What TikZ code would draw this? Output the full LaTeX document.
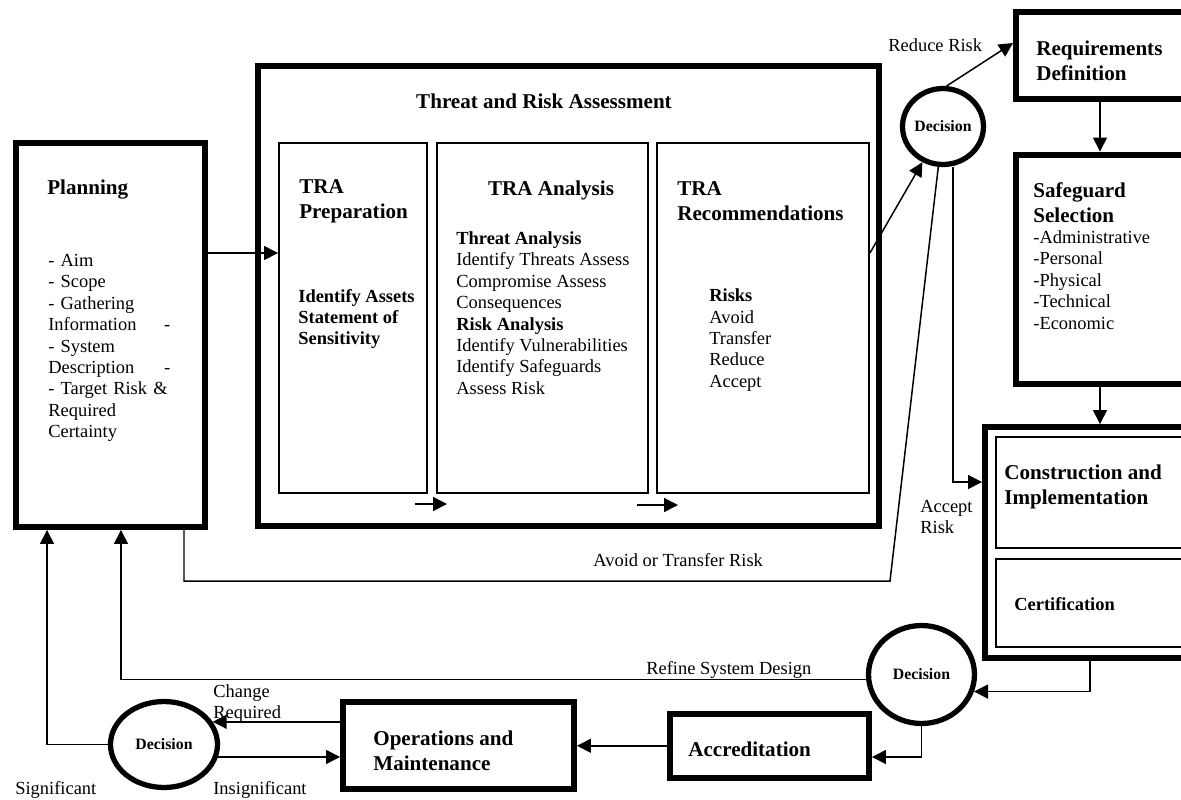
\documentclass[tikz,border=0pt]{standalone}
\usepackage{fontspec}
\setmainfont{Liberation Serif}
\usepackage{tikz}
\usetikzlibrary{positioning}
\usetikzlibrary{arrows.meta}
\usetikzlibrary{shapes.geometric}

\begin{document}
\begin{tikzpicture}[x=0.02cm, y=-0.02cm,
   bigbox/.style={draw, line width=3.4pt, inner sep=0pt},
   smallbox/.style={draw, line width=1.1pt, inner sep=0pt},
   decision/.style={ellipse, draw, line width=3pt, inner sep=0pt, font=\fontsize{9}{10}\selectfont\bfseries},
   txt/.style={anchor=west, inner sep=0pt, align=left, font=\fontsize{10.5}{12.2}\selectfont},
   boldtxt/.style={txt, font=\fontsize{10.5}{12.2}\selectfont\bfseries},
   head/.style={anchor=west, inner sep=0pt, align=left, font=\fontsize{12}{14.2}\selectfont\bfseries},
   link/.style={line width=0.85pt},
   arr/.style={link, -{Triangle[length=0.28cm, width=0.28cm]}}]
\useasboundingbox (0,0) rectangle (1181,799);

% boxes
\node[bigbox, minimum width=3.79cm, minimum height=7.68cm] (plan) at (110.75,335) {};
\node[bigbox, minimum width=12.43cm, minimum height=9.2cm] (tra) at (568.25,296) {};
\node[smallbox, minimum width=2.96cm, minimum height=7cm] (prep) at (353,318) {};
\node[smallbox, minimum width=4.22cm, minimum height=7cm] (anal) at (542.5,318) {};
\node[smallbox, minimum width=4.24cm, minimum height=7cm] (rec) at (763,318) {};
\node[bigbox, minimum width=3.68cm, minimum height=1.74cm] (req) at (1108,55.5) {};
\node[bigbox, minimum width=3.68cm, minimum height=4.59cm] (safe) at (1108,269.25) {};
\node[bigbox, minimum width=4.3cm, minimum height=4.62cm] (cons) at (1092.5,542.5) {};
\node[smallbox, minimum width=3.98cm, minimum height=2.22cm] (impl) at (1095.5,492.5) {};
\node[smallbox, minimum width=3.98cm, minimum height=1.76cm] (cert) at (1095.5,603) {};
\node[bigbox, minimum width=4.62cm, minimum height=1.74cm] (ops) at (458.5,745.5) {};
\node[bigbox, minimum width=3.98cm, minimum height=1.29cm] (accr) at (769.5,745.75) {};

\node[decision, minimum width=1.62cm, minimum height=1.52cm] (dec1) at (943,126.5) {Decision};
\node[decision, minimum width=2.12cm, minimum height=1.96cm] (dec2) at (921.5,674.5) {Decision};
\node[decision, minimum width=2.14cm, minimum height=1.72cm] (dec3) at (164,744.5) {Decision};

% texts
\node[head] (plantitle) at (47,190) {Planning};
\node[txt, text width=2.44cm] (planlist) at (48,348) {- Aim\\- Scope\\- Gathering\\Information\hfill-\\- System\\Description\hfill-\\- Target Risk \&\\Required\\Certainty};
\node[head, anchor=center] (tratitle) at (544,101) {Threat and Risk Assessment};
\node[head] (preptitle) at (299,201) {TRA\\Preparation};
\node[boldtxt] (prepbody) at (298,319) {Identify Assets\\Statement of\\Sensitivity};
\node[head, anchor=center] (analtitle) at (551,190) {TRA Analysis};
\node[txt] (analbody) at (456,313) {\textbf{Threat Analysis}\\Identify Threats Assess\\Compromise Assess\\Consequences\\\textbf{Risk Analysis}\\Identify Vulnerabilities\\Identify Safeguards\\Assess Risk};
\node[head] (rectitle) at (677,201) {TRA\\Recommendations};
\node[txt] (recbody) at (709,340) {\textbf{Risks}\\Avoid\\Transfer\\Reduce\\Accept};
\node[head] (reqtext) at (1036,60.5) {Requirements\\Definition};
\node[head] (safetitle) at (1033,203) {Safeguard\\Selection};
\node[txt] (safelist) at (1033,280) {-Administrative\\-Personal\\-Physical\\-Technical\\-Economic};
\node[head] (impltext) at (1004,487) {Construction and\\Implementation};
\node[boldtxt] (certtext) at (1014,604) {Certification};
\node[head] (opstext) at (373,751) {Operations and\\Maintenance};
\node[head] (accrtext) at (688,749) {Accreditation};

% labels
\node[txt] (lblreduce) at (888,45) {Reduce Risk};
\node[txt] (lblaccept) at (920,517) {Accept\\Risk};
\node[txt] (lblavoid) at (593,560) {Avoid or Transfer Risk};
\node[txt] (lblrefine) at (646,670) {Refine System Design};
\node[txt] (lblchange) at (213,703.5) {Change\\Required};
\node[txt] (lblsig) at (15,790) {Significant};
\node[txt] (lblinsig) at (213,790) {Insignificant};

% connectors
\draw[arr] (plan.east |- 0,253) -- (prep.west |- 0,253);
\draw[arr] (rec.east |- 0,253) -- (dec1);
\draw[arr] (dec1.85) -- (req.west |- 0,43);
\draw[arr] (req.south -| 1100,0) -- (safe.north -| 1100,0);
\draw[arr] (safe.south -| 1100,0) -- (cons.north -| 1100,0);
\draw[arr] (dec1.south -| 953,0) |- (cons.west |- 0,482);
\coordinate (avoidbend) at (890,581);
\draw[link] (plan.south -| 184,0) |- (avoidbend) -- (dec1);
\draw[arr] (cons.south -| 1090,0) |- (dec2.-18);
\draw[arr] (dec2.185) -| (plan.south -| 121,0);
\draw[arr] (dec2.south) |- (accr.east |- 0,757);
\draw[arr] (accr.west) -- (accr.west -| ops.east);
\draw[arr] (ops.west |- dec3.25) -- (dec3.25);
\draw[arr] (dec3.-13) -- (dec3.-13 -| ops.west);
\draw[arr] (dec3.west) -| (plan.south -| 47,0);

% small arrows under the TRA boxes
\coordinate (stepa1) at (415,504);
\coordinate (stepa2) at (447,504);
\coordinate (stepb1) at (637,505);
\coordinate (stepb2) at (678,505);
\draw[arr] (stepa1) -- (stepa2);
\draw[arr] (stepb1) -- (stepb2);
\end{tikzpicture}
\end{document}
